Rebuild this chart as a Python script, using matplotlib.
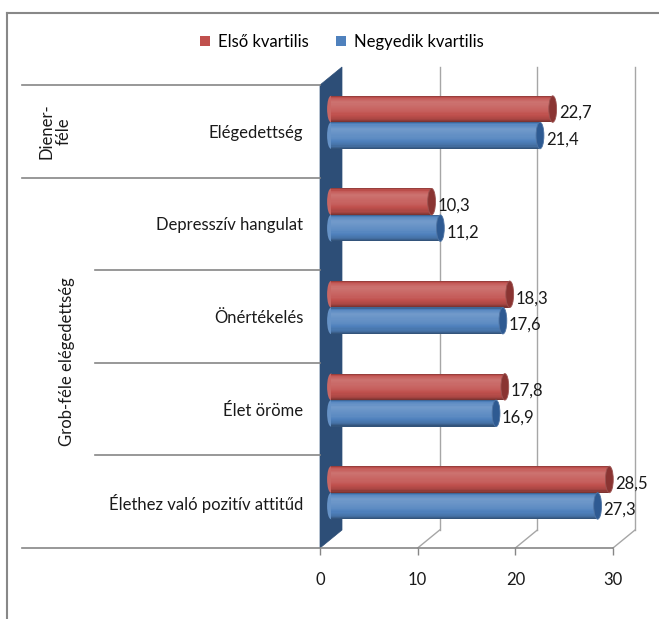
import numpy as np
import matplotlib
matplotlib.use('Agg')
import matplotlib.pyplot as plt
import matplotlib.transforms as mtrans
from matplotlib.patches import Ellipse, Patch, Polygon
from matplotlib.lines import Line2D

categories = ['Elégedettség', 'Depresszív hangulat', 'Önértékelés',
              'Élet öröme', 'Élethez való pozitív attitűd']
first_q = [22.7, 10.3, 18.3, 17.8, 28.5]
fourth_q = [21.4, 11.2, 17.6, 16.9, 27.3]
series_names = ['Első kvartilis', 'Negyedik kvartilis']
xticks = [0, 10, 20, 30]
group_labels = ['Diener-\nféle', 'Grob-féle elégedettség']

W, H = 659, 619
GRAY = '#868686'
GRID = '#a6a6a6'
WALL = '#2d4e77'
base_colors = ['#c0504d', '#4f81bd']
cap_colors = ['#8a3432', '#2e5a92']

plt.rcParams['font.family'] = ['Lato', 'DejaVu Sans']
FS = 12


def shade(hexcol, t):
    # cylinder lighting: dark rim, highlight near the top, darker bottom
    c = np.array(matplotlib.colors.to_rgb(hexcol))
    f = np.interp(t, [0.0, 0.08, 0.25, 0.6, 0.88, 1.0],
                  [-0.3, 0.05, 0.2, 0.08, -0.12, -0.4])
    if f >= 0:
        return c + (1 - c) * f
    return c * (1 + f)


fig = plt.figure(figsize=(W / 100, H / 100), dpi=100)
ax = fig.add_axes([320 / W, 1 - 548 / H, 293 / W, 463 / H])
ax.set_xlim(0, 30)
ax.set_ylim(len(categories) - 0.5, -0.5)
ax.patch.set_alpha(0)
for s in ax.spines.values():
    s.set_visible(False)

DX, DY = 22, 18  # depth of the 3d box in pixels


def disp(x, y, d):
    p = ax.transData.transform((x, y))
    return (p[0] + d * DX, p[1] + d * DY)


ident = mtrans.IdentityTransform()
y_top, y_bot = -0.5, len(categories) - 0.5

# left wall
wall = Polygon([disp(0, y_top, 0), disp(0, y_top, 1), disp(0, y_bot, 1), disp(0, y_bot, 0)],
               closed=True, facecolor=WALL, edgecolor=WALL, lw=0.5,
               transform=ident, clip_on=False, zorder=1)
ax.add_patch(wall)

# back wall grid + floor lines
for v in xticks[1:]:
    a, b = disp(v, y_top, 1), disp(v, y_bot, 1)
    ax.add_line(Line2D([a[0], b[0]], [a[1], b[1]], color=GRID, lw=1,
                       transform=ident, clip_on=False, zorder=0.5))
    c, d = disp(v, y_bot, 0), disp(v, y_bot, 1)
    ax.add_line(Line2D([c[0], d[0]], [c[1], d[1]], color=GRID, lw=1,
                       transform=ident, clip_on=False, zorder=0.5))

# category separators
ytr = ax.get_yaxis_transform()
for yy in np.arange(-0.5, len(categories) - 0.5, 1.0):
    x0 = -1.017 if yy < 1 else -0.768
    ax.plot([x0, 0], [yy, yy], color=GRAY, lw=1.2, transform=ytr, clip_on=False, zorder=2)
ax.plot([-1.017, 1.0], [y_bot, y_bot], color=GRAY, lw=1.2, transform=ytr, clip_on=False, zorder=2)

# cylinder bars at mid depth
mid = mtrans.offset_copy(ax.transData, fig=fig, x=DX / 2, y=DY / 2, units='dots')
lab = mtrans.offset_copy(ax.transData, fig=fig, x=DX / 2 + 6, y=DY / 2 - 4, units='dots')
h = 0.286
N = 24
ypos = np.arange(len(categories))
for s, vals in enumerate([first_q, fourth_q]):
    yc = ypos + (s - 0.5) * h
    base = base_colors[s]
    for i in range(len(vals)):
        e = Ellipse((0, yc[i]), 0.8, h, facecolor=shade(base, 0.45), lw=0,
                    transform=mid, zorder=3, clip_on=False)
        ax.add_patch(e)
    for k in range(N):
        t = (k + 0.5) / N
        bars = ax.barh(yc - h / 2 + t * h, vals, height=h / N * 1.1,
                       color=shade(base, t), lw=0, zorder=4)
        for b in bars:
            b.set_transform(mid)
            b.set_clip_on(False)
    for i, v in enumerate(vals):
        e = Ellipse((v, yc[i]), 0.8, h, facecolor=cap_colors[s],
                    edgecolor=shade(cap_colors[s], 0.2), lw=0.6,
                    transform=mid, zorder=5, clip_on=False)
        ax.add_patch(e)
        ax.text(v, yc[i], f'{v:.1f}'.replace('.', ','), transform=lab,
                ha='left', va='center', fontsize=FS, color='#1a1a1a', zorder=6)

# axes ticks
ax.set_xticks(xticks)
ax.set_xticklabels([str(x) for x in xticks])
ax.tick_params(axis='x', length=5, width=1, color=GRAY, pad=12, labelsize=FS,
               labelcolor='#1a1a1a')
ax.set_yticks(ypos)
ax.set_yticklabels(categories)
ax.tick_params(axis='y', length=0, pad=12, labelsize=FS, labelcolor='#1a1a1a')

# group labels
fig.text(55 / W, 1 - 131 / H, group_labels[0], rotation=90, ha='center', va='center',
         multialignment='center', fontsize=FS, color='#1a1a1a', linespacing=1.1)
fig.text(67 / W, 1 - 362 / H, group_labels[1], rotation=90, ha='center', va='center',
         fontsize=FS, color='#1a1a1a')

# legend
handles = [Patch(facecolor=c, edgecolor='none') for c in base_colors]
fig.legend(handles, series_names, loc='center', bbox_to_anchor=(342 / W, 1 - 42 / H),
           ncol=2, frameon=False, handlelength=0.6, handleheight=0.6,
           handletextpad=0.5, columnspacing=1.6, fontsize=FS)

# outer frame (partly cut off)
fig.add_artist(Line2D([7 / W, 7 / W], [0, 1 - 13 / H], color='#888888', lw=1.5,
                      transform=fig.transFigure))
fig.add_artist(Line2D([7 / W, 1], [1 - 13 / H, 1 - 13 / H], color='#888888', lw=1.5,
                      transform=fig.transFigure))

fig.savefig('out.png', dpi=100)
